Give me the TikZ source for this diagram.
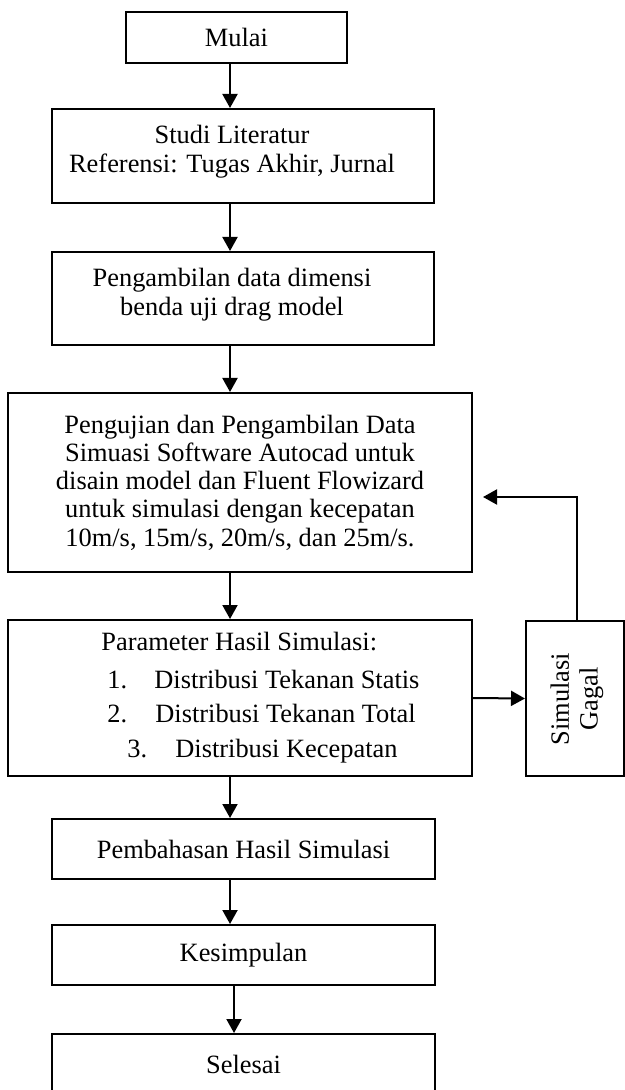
\documentclass[tikz,border=0pt]{standalone}
\usepackage{fontspec}
\setmainfont{Liberation Serif}
\usetikzlibrary{arrows.meta}
\begin{document}
\begin{tikzpicture}[x=0.5pt,y=-0.5pt,
  box/.style={draw=black, line width=1pt, inner sep=0pt},
  txt/.style={font=\fontsize{13.2}{14.4}\selectfont, align=center, inner sep=0pt},
  ltxt/.style={font=\fontsize{13.2}{14.4}\selectfont, inner sep=0pt, anchor=base west},
  arr/.style={line width=1pt, -{Triangle[width=7.5pt,length=7pt]}},
]
\clip (0,0) rectangle (625,1090);
% boxes
\node[box, txt, minimum width=110.5pt, minimum height=25.5pt] (mulai) at (236.5,37.5) {Mulai};
\node[box, minimum width=191pt, minimum height=47pt] (studi) at (243,156) {};
\node[txt] (studiT) at (232,152) {Studi Literatur\\Referensi: Tugas Akhir, Jurnal};
\node[box, minimum width=191pt, minimum height=46.5pt] (ambil) at (243,298.5) {};
\node[txt] (ambilT) at (232,295) {Pengambilan data dimensi\\benda uji drag model};
\node[box, txt, font=\fontsize{13.2}{14.15}\selectfont, minimum width=232pt, minimum height=89.5pt] (uji) at (240,482.5)
  {Pengujian dan Pengambilan Data\\Simuasi Software Autocad untuk\\disain model dan Fluent Flowizard\\untuk simulasi dengan kecepatan\\10m/s, 15m/s, 20m/s, dan 25m/s.};
\node[box, minimum width=232pt, minimum height=78pt] (param) at (240,698) {};
\node[ltxt] (p0) at (101,650) {Parameter Hasil Simulasi:};
\node[ltxt] (p1n) at (107,688) {1.};
\node[ltxt] (p1) at (154,688) {Distribusi Tekanan Statis};
\node[ltxt] (p2n) at (107,722) {2.};
\node[ltxt] (p2) at (155,722) {Distribusi Tekanan Total};
\node[ltxt] (p3n) at (127,757) {3.};
\node[ltxt] (p3) at (175,757) {Distribusi Kecepatan};
\node[box, minimum width=49pt, minimum height=77.5pt] (gagal) at (575,698.5) {};
\node[txt, rotate=90] (gagalT) at (577,699) {Simulasi\\Gagal};
\node[box, txt, minimum width=191.5pt, minimum height=30pt] (bahas) at (243.5,849) {Pembahasan Hasil Simulasi};
\node[box, txt, minimum width=191.5pt, minimum height=30pt] (simpul) at (243.5,955) {Kesimpulan};
\node[box, txt, minimum width=191.5pt, minimum height=30pt] (selesai) at (243.5,1064) {Selesai};
% connectors
\coordinate (ax) at (230,0);
\coordinate (bx) at (234,0);
\coordinate (fb) at (483,497);
\draw[arr] (mulai.south -| ax) -- (studi.north -| ax);
\draw[arr] (studi.south -| ax) -- (ambil.north -| ax);
\draw[arr] (ambil.south -| ax) -- (uji.north -| ax);
\draw[arr] (uji.south -| ax) -- (param.north -| ax);
\draw[arr] (param.south -| ax) -- (bahas.north -| ax);
\draw[arr] (bahas.south -| ax) -- (simpul.north -| ax);
\draw[arr] (simpul.south -| bx) -- (selesai.north -| bx);
\draw[arr] (param.east) -- (gagal.west);
\draw[arr] ([xshift=1pt]gagal.north) |- (fb);
\end{tikzpicture}
\end{document}
